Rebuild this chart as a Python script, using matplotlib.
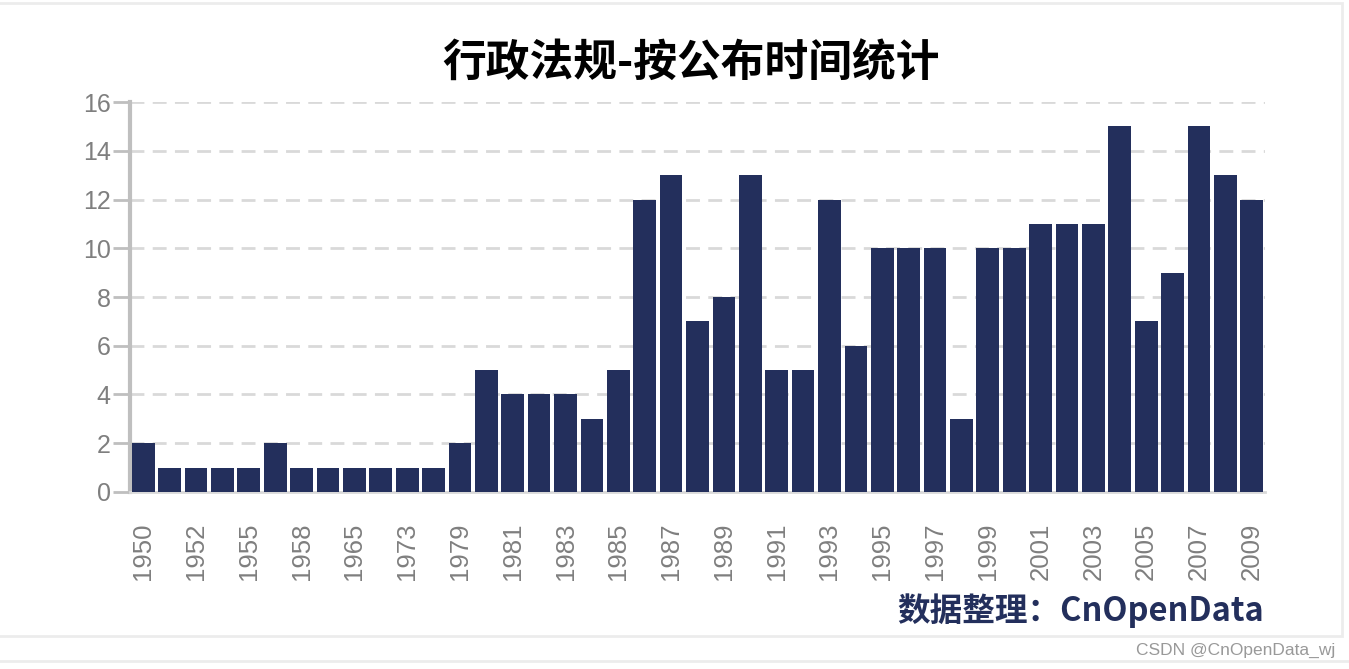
import matplotlib.pyplot as plt
from matplotlib.lines import Line2D
from matplotlib.patches import Rectangle

plt.rcParams['font.family'] = ['Liberation Sans', 'Noto Sans CJK SC', 'DejaVu Sans']

# Data (years with hidden labels are estimates)
years = ['1950', '1951', '1952', '1954', '1955', '1957', '1958', '1962', '1965', '1969',
         '1973', '1978', '1979', '1980', '1981', '1982', '1983', '1984', '1985', '1986',
         '1987', '1988', '1989', '1990', '1991', '1992', '1993', '1994', '1995', '1996',
         '1997', '1998', '1999', '2000', '2001', '2002', '2003', '2004', '2005', '2006',
         '2007', '2008', '2009']
counts = [2, 1, 1, 1, 1, 2, 1, 1, 1, 1,
          1, 1, 2, 5, 4, 4, 4, 3, 5, 12,
          13, 7, 8, 13, 5, 5, 12, 6, 10, 10,
          10, 3, 10, 10, 11, 11, 11, 15, 7, 9,
          15, 13, 12]
title = '行政法规-按公布时间统计'
source = '数据整理：CnOpenData'

bar_color = '#232f5c'

fig = plt.figure(figsize=(13.49, 6.69), dpi=100)
ax = fig.add_axes([0.0964, 0.2646, 0.8413, 0.5829])

x = list(range(len(years)))
ax.bar(x, counts, width=0.86, color=bar_color, zorder=3)

ax.set_xlim(-0.5, len(years) - 0.5)
ax.set_ylim(0, 16)
ax.set_yticks(range(0, 17, 2))
ax.set_xticks(x[::2])
ax.set_xticklabels(years[::2], rotation=90, fontsize=18.5, color='#7f7f7f')
ax.tick_params(axis='x', length=0, pad=22)
ax.tick_params(axis='y', labelsize=18, labelcolor='#7f7f7f', color='#bfbfbf',
               length=12, width=2, pad=2)

ax.grid(axis='y', linestyle=(0, (5, 3)), color='#d9d9d9', linewidth=2, zorder=0)
for s in ['top', 'right']:
    ax.spines[s].set_visible(False)
ax.spines['left'].set_color('#bfbfbf')
ax.spines['left'].set_linewidth(3)
ax.spines['bottom'].set_color('#d9d9d9')
ax.spines['bottom'].set_linewidth(2)

fig.text(0.512, 0.905, title, ha='center', va='center', fontsize=31.5,
         fontweight='bold', family=['Noto Sans CJK SC', 'DejaVu Sans'])
fig.text(0.937, 0.087, source, ha='right', va='center', fontsize=23.5,
         fontweight='bold', color=bar_color, family=['Noto Sans CJK SC', 'DejaVu Sans'])
fig.text(0.99, 0.028, 'CSDN @CnOpenData_wj', ha='right', va='center', fontsize=12.5,
         color='#999999')

# light frame around the chart card
fig.add_artist(Rectangle((-0.01, 0.049), 1.005, 0.946, transform=fig.transFigure,
                         fill=False, edgecolor='#ececec', linewidth=2))
fig.add_artist(Line2D([0, 1], [0.012, 0.012], transform=fig.transFigure,
                      color='#ececec', linewidth=2))

plt.savefig('out.png', dpi=100)
